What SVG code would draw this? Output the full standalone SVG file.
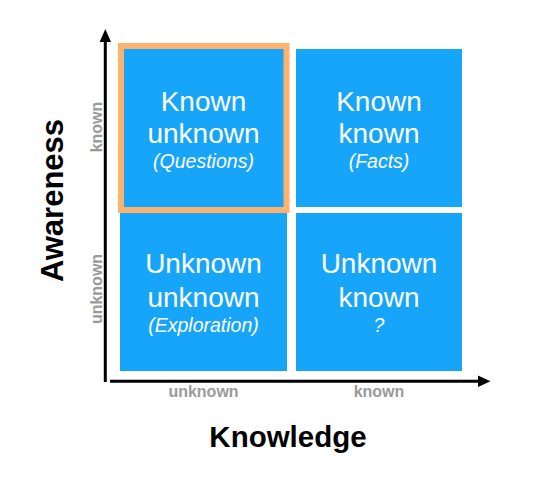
<svg xmlns="http://www.w3.org/2000/svg" width="539" height="491" viewBox="0 0 539 491">
  <style>
    .box { fill: #17A5FA; }
    .t { font-family: "Liberation Sans", Arial, sans-serif; fill: #FFFFFF; text-anchor: middle; font-size: 28px; }
    .s { font-family: "Liberation Sans", Arial, sans-serif; fill: #FFFFFF; text-anchor: middle; font-size: 19.5px; font-style: italic; }
    .ax { font-family: "Liberation Sans", Arial, sans-serif; fill: #9A9A9A; text-anchor: middle; font-size: 16px; font-weight: bold; }
    .title { font-family: "Liberation Sans", Arial, sans-serif; fill: #000000; text-anchor: middle; font-weight: bold; }
    .axis { stroke: #000000; stroke-width: 3; fill: none; }
  </style>
  <rect width="539" height="491" fill="#FFFFFF"/>
  <g id="connectors">
    <line class="axis" x1="105.3" y1="40" x2="105.3" y2="382"/>
    <polygon points="105.3,29 111,42 99.6,42" fill="#000000"/>
    <line class="axis" x1="110" y1="381.3" x2="480" y2="381.3"/>
    <polygon points="490.5,381.3 478,375.6 478,387" fill="#000000"/>
  </g>
  <g id="node-known-unknown">
    <rect class="box" x="120" y="46" width="167" height="164"/>
    <rect x="121" y="46" width="165.5" height="164" fill="none" stroke="#FDB36E" stroke-width="6"/>
    <text class="t" x="203.5" y="110.5">Known</text>
    <text class="t" x="203.5" y="142.5">unknown</text>
    <text class="s" x="203.5" y="168">(Questions)</text>
  </g>
  <g id="node-known-known">
    <rect class="box" x="296" y="49" width="166" height="158"/>
    <text class="t" x="379" y="110.5">Known</text>
    <text class="t" x="379" y="142.5">known</text>
    <text class="s" x="379" y="168">(Facts)</text>
  </g>
  <g id="node-unknown-unknown">
    <rect class="box" x="120" y="213" width="167" height="158"/>
    <text class="t" x="203.5" y="273.3">Unknown</text>
    <text class="t" x="203.5" y="306.5">unknown</text>
    <text class="s" x="203.5" y="331.5">(Exploration)</text>
  </g>
  <g id="node-unknown-known">
    <rect class="box" x="296" y="213" width="166" height="158"/>
    <text class="t" x="379" y="273">Unknown</text>
    <text class="t" x="379" y="306.5">known</text>
    <text class="s" x="379" y="331.5">?</text>
  </g>
  <g id="axis-labels">
    <text class="ax" x="203.5" y="397">unknown</text>
    <text class="ax" x="379" y="397">known</text>
    <text class="ax" transform="translate(101.5,127) rotate(-90)">known</text>
    <text class="ax" transform="translate(101.5,289) rotate(-90)">unknown</text>
    <text class="title" x="288" y="447" font-size="29.5">Knowledge</text>
    <text class="title" transform="translate(62.5,200.5) rotate(-90)" font-size="31">Awareness</text>
  </g>
</svg>
